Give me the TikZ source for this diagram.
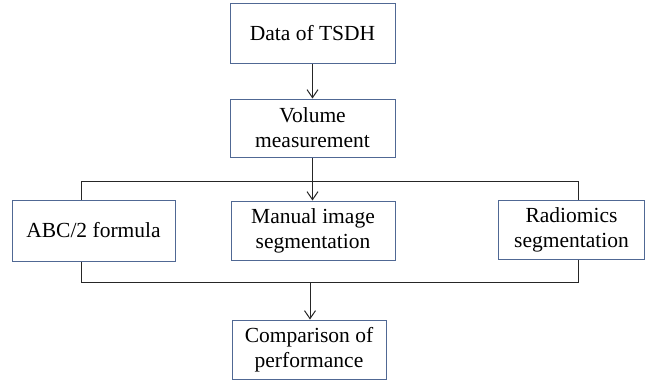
\documentclass[tikz,border=0pt]{standalone}
\usepackage{fontspec}
\setmainfont{Liberation Serif}
\usetikzlibrary{arrows.meta, positioning}
\definecolor{boxblue}{RGB}{80,104,148}

\begin{document}
\begin{tikzpicture}[
    x=1pt, y=-1pt,
    >={Straight Barb[length=8pt, width=11pt]},
    every node/.style={font=\fontsize{21.5}{25}\selectfont},
    box/.style={draw=boxblue, line width=1pt, align=center, inner sep=0pt},
    link/.style={draw=black!85, line width=1pt},
]
\useasboundingbox (0,0) rectangle (645,381);

% Boxes
\node[box, minimum width=165pt, minimum height=60pt] (data) at (312.5,33) {Data of TSDH};
\node[box, minimum width=165pt, minimum height=58pt] (volume) at (312.5,128) {Volume\\measurement};
\node[box, minimum width=163pt, minimum height=61pt] (abc) at (93.5,230.5) {ABC/2 formula};
\node[box, minimum width=164pt, minimum height=59pt] (manual) at (313,230.5) {Manual image\\segmentation};
\node[box, minimum width=146pt, minimum height=59pt] (radio) at (571.5,229.5) {Radiomics\\segmentation};
\node[box, minimum width=154pt, minimum height=59pt] (comp) at (309,349.5) {Comparison of\\performance};

% Bar corners
\coordinate (topL) at (81,181);
\coordinate (topR) at (578,181);
\coordinate (botL) at (81,282);
\coordinate (botR) at (578,282);

% Connectors
\draw[link, ->] (data) -- (volume);
\draw[link, ->] (volume.south) -- (volume.south |- manual.north);
\draw[link] (topL |- abc.north) -- (topL) -- (topR) -- (topR |- radio.north);
\draw[link] (botL |- abc.south) -- (botL) -- (botR) -- (botR |- radio.south);
\draw[link, ->] ([xshift=1pt]comp.north |- botL) -- ([xshift=1pt]comp.north);

\end{tikzpicture}
\end{document}
